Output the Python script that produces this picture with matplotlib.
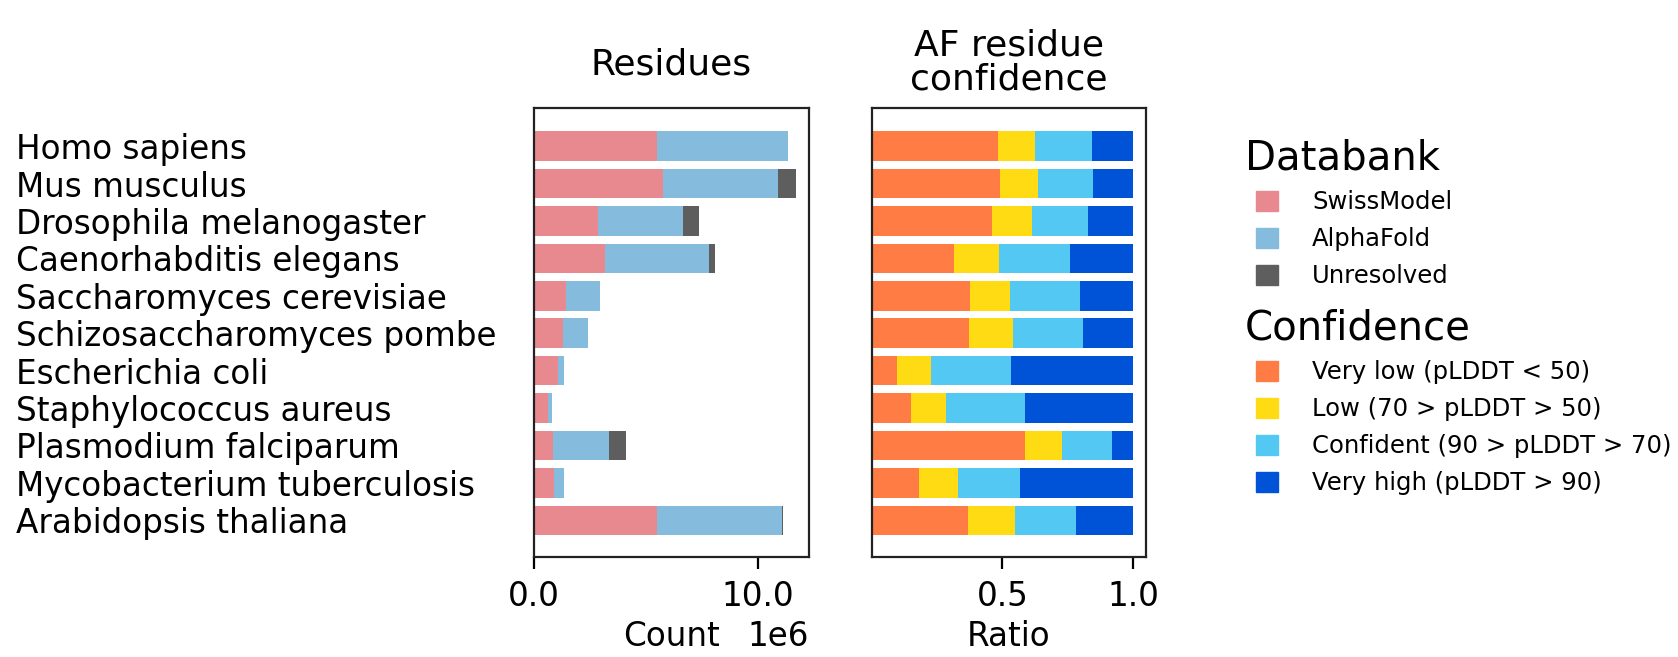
import matplotlib
matplotlib.use("Agg")
import matplotlib.pyplot as plt
from matplotlib.ticker import FuncFormatter
from matplotlib.patches import Patch

species = ["Homo sapiens", "Mus musculus", "Drosophila melanogaster",
           "Caenorhabditis elegans", "Saccharomyces cerevisiae",
           "Schizosaccharomyces pombe", "Escherichia coli",
           "Staphylococcus aureus", "Plasmodium falciparum",
           "Mycobacterium tuberculosis", "Arabidopsis thaliana"]

# residue counts (stacked)
swissmodel = [5.48e6, 5.75e6, 2.87e6, 3.17e6, 1.43e6, 1.31e6, 1.06e6, 0.61e6, 0.86e6, 0.91e6, 5.48e6]
alphafold = [5.89e6, 5.14e6, 3.79e6, 4.67e6, 1.53e6, 1.09e6, 0.27e6, 0.19e6, 2.51e6, 0.42e6, 5.59e6]
unresolved = [0.0, 0.82e6, 0.73e6, 0.26e6, 0.0, 0.0, 0.0, 0.0, 0.76e6, 0.0, 0.06e6]

# AlphaFold residue confidence ratios
very_low = [0.483, 0.492, 0.458, 0.313, 0.377, 0.372, 0.097, 0.150, 0.585, 0.181, 0.367]
low = [0.141, 0.145, 0.155, 0.172, 0.151, 0.170, 0.130, 0.132, 0.144, 0.147, 0.180]
confident = [0.220, 0.210, 0.216, 0.273, 0.269, 0.266, 0.304, 0.304, 0.192, 0.240, 0.235]
very_high = [0.156, 0.153, 0.171, 0.242, 0.203, 0.192, 0.469, 0.414, 0.079, 0.432, 0.218]

db_labels = ["SwissModel", "AlphaFold", "Unresolved"]
db_colors = ["#E8898F", "#85BBDC", "#5E5E5E"]
conf_labels = ["Very low (pLDDT < 50)", "Low (70 > pLDDT > 50)",
               "Confident (90 > pLDDT > 70)", "Very high (pLDDT > 90)"]
conf_colors = ["#FF7D45", "#FFDB13", "#52C8F2", "#0053D6"]

FS = 23.5      # species labels
TFS = 23.5     # tick labels / axis labels
W, H = 1678, 657
fig = plt.figure(figsize=(W / 100, H / 100), dpi=100)
ax1 = fig.add_axes([534 / W, 1 - 557 / H, 275 / W, 449 / H])
ax2 = fig.add_axes([872 / W, 1 - 557 / H, 274 / W, 449 / H])

y = list(range(len(species)))

left = [0.0] * len(species)
for vals, c in zip([swissmodel, alphafold, unresolved], db_colors):
    ax1.barh(y, vals, left=left, height=0.79, color=c)
    left = [a + b for a, b in zip(left, vals)]

left = [0.0] * len(species)
for vals, c in zip([very_low, low, confident, very_high], conf_colors):
    ax2.barh(y, vals, left=left, height=0.79, color=c)
    left = [a + b for a, b in zip(left, vals)]

for ax in (ax1, ax2):
    ax.set_ylim(10.98, -1.02)
    for s in ax.spines.values():
        s.set_linewidth(1.6)
        s.set_color("#222222")
    ax.tick_params(axis="x", labelsize=TFS, length=8.5, width=1.6, pad=8)
    ax.xaxis.OFFSETTEXTPAD = 5

ax1.set_yticks(y, labels=species)
ax1.tick_params(axis="y", length=0, pad=373, labelsize=FS)
for lab in ax1.get_yticklabels():
    lab.set_horizontalalignment("left")
ax2.set_yticks([])

ax1.set_xticks([0, 1e7])
fmt = FuncFormatter(lambda v, p: f"{v / 1e6:.1f}")
fmt.set_offset_string("1e6")
ax1.xaxis.set_major_formatter(fmt)
ax1.xaxis.get_offset_text().set_fontsize(TFS)
ax2.set_xticks([0.5, 1.0])

ax1.set_xlabel("Count", fontsize=TFS, labelpad=5)
ax2.set_xlabel("Ratio", fontsize=TFS, labelpad=5)
ax1.set_title("Residues", fontsize=26, pad=24)
ax2.set_title("AF residue\nconfidence", fontsize=26, pad=13, linespacing=1.0)

# legends
fig.text(1245 / W, 1 - 170 / H, "Databank", fontsize=29, va="baseline")
fig.text(1245 / W, 1 - 340 / H, "Confidence", fontsize=29, va="baseline")
kw = dict(loc="upper left", frameon=False, fontsize=17.5, borderpad=0,
          borderaxespad=0, handlelength=0.9, handleheight=0.9,
          handletextpad=1.4, labelspacing=0.54)
fig.legend([Patch(color=c) for c in db_colors], db_labels,
           bbox_to_anchor=(1256 / W, 1 - 190 / H), **kw)
fig.legend([Patch(color=c) for c in conf_colors], conf_labels,
           bbox_to_anchor=(1256 / W, 1 - 360 / H), **kw)

fig.savefig("out.png", dpi=100, facecolor="white")
